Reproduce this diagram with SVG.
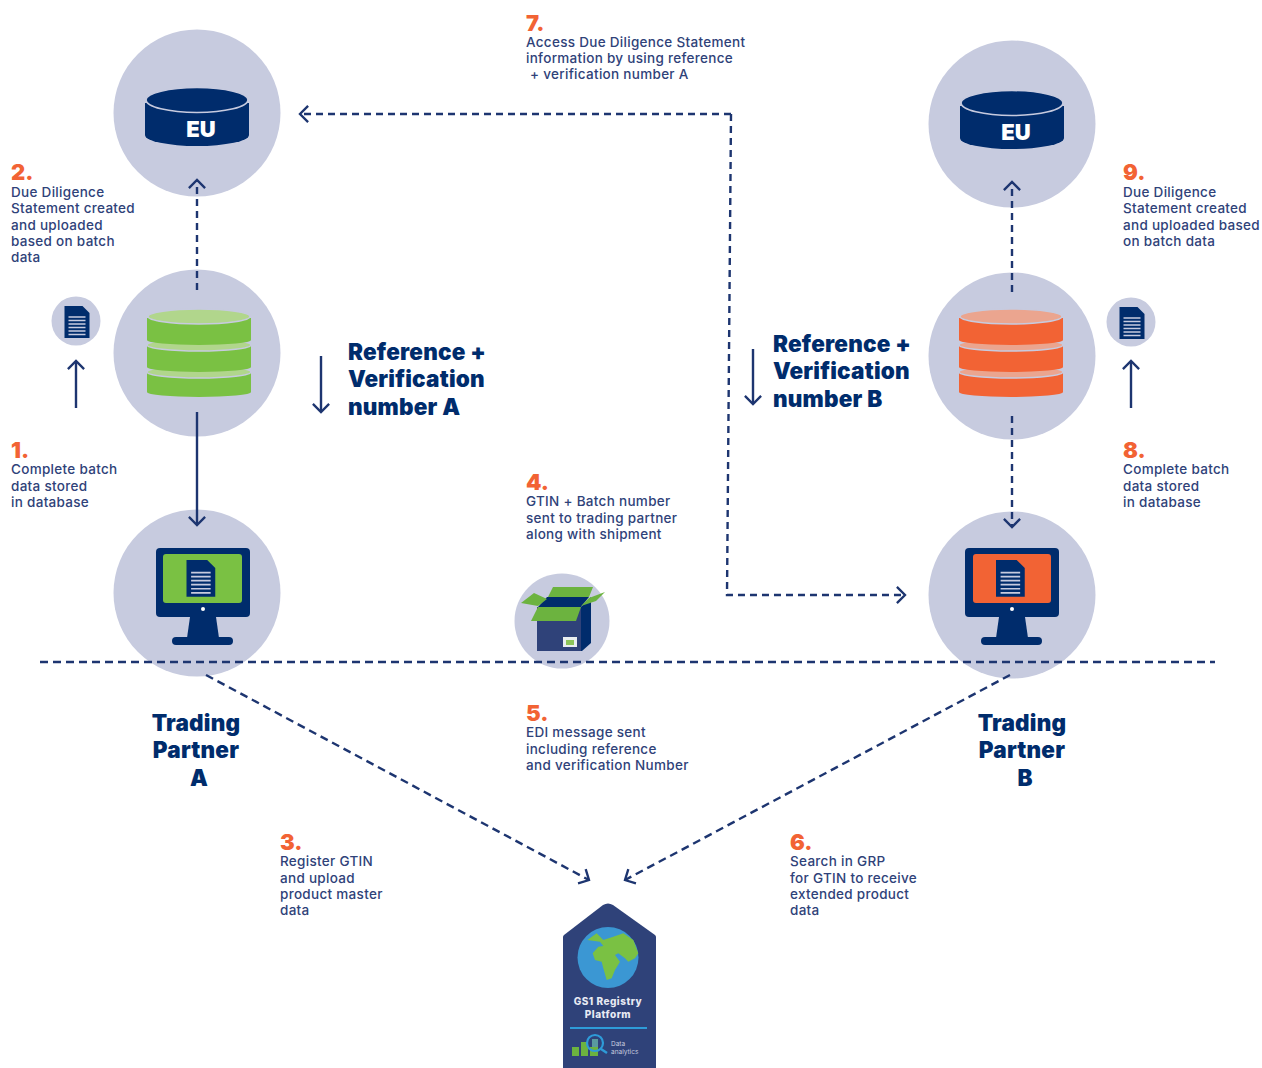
<svg xmlns="http://www.w3.org/2000/svg" width="1262" height="1068" viewBox="0 0 1262 1068">
<style>
text{font-family:"Inter","Liberation Sans",sans-serif}
.c{fill:#c7cbdf}
.n{fill:#002c6c}
.t{font-size:13.5px;font-weight:500;fill:#2f4279;letter-spacing:.3px}
.o{font-size:22px;font-weight:900;fill:#f26334}
.h{font-size:22.500px;font-weight:900;fill:#002c6c;letter-spacing:.2px}
.m{text-anchor:middle}
.ln{fill:none;stroke:#1d3570;stroke-width:2.4}
.d{stroke-dasharray:7 5}
.f{stroke-dasharray:8 5}
.green{--b:#7ac143;--p:#b1d68c}
.orange{--b:#f26334;--p:#eba58f}
.body{fill:var(--b)}
.lens{fill:var(--p);stroke:#c7cbdf;stroke-width:1.500}
</style>
<defs>
<marker id="a" viewBox="0 0 20 20" refX="17" refY="10" markerWidth="18" markerHeight="18" markerUnits="userSpaceOnUse" orient="auto"><path d="M8 1L17 10L8 19" fill="none" stroke="#1d3570" stroke-width="2.600"/></marker>
<g id="doc"><path d="M0 0H18L25 7V32H0Z" class="n"/><path d="M4 11H21M4 14.500H21M4 18H21M4 21.500H21M4 25H21M4 28.500H21" stroke="#c7cbdf" stroke-width="1.500"/></g>
<g id="eu"><path d="M-52 -10V22A52 11 0 0 0 52 22V-10Z" class="n"/><ellipse cx="0" cy="-13" rx="51" ry="12.500" class="n" stroke="#c7cbdf" stroke-width="1.600"/></g>
<g id="mon"><rect x="-47" y="-46" width="94" height="69" rx="4" class="n"/><path d="M-13 23H13L16 44H-16Z" class="n"/><rect x="-31" y="43" width="61" height="8" rx="4" class="n"/><circle cx="0" cy="15" r="2" fill="#fff"/></g>
<g id="stack">
<path class="body" d="M-52 372V392A52 5 0 0 0 52 392V372Z"/><ellipse class="lens" cx="0" cy="372" rx="52" ry="6"/>
<path class="body" d="M-52 345V367A52 5 0 0 0 52 367V345Z"/><ellipse class="lens" cx="0" cy="345" rx="52" ry="6"/>
<path class="body" d="M-52 318V340A52 5 0 0 0 52 340V318Z"/><ellipse class="lens" cx="0" cy="316.500" rx="51" ry="7.500"/>
</g>
</defs>

<g id="partner-a-eu"><circle class="c" cx="197" cy="113" r="83.500"/><use href="#eu" x="197" y="113"/><text x="201" y="137" class="m" font-size="22" font-weight="900" fill="#fff">EU</text></g>
<g id="partner-a-db" class="green"><circle class="c" cx="197" cy="353" r="83.500"/><use href="#stack" x="199" y="0"/></g>
<g id="partner-a-doc"><circle class="c" cx="76" cy="321" r="24.500"/><use href="#doc" x="64.500" y="306"/></g>
<g id="partner-a-pc"><circle class="c" cx="197" cy="593" r="83.500"/><use href="#mon" x="203" y="594"/><rect x="163" y="554" width="79" height="49" rx="3" fill="#7ac143"/><use href="#doc" transform="translate(186.500 560) scale(1.150)"/></g>

<g id="partner-b-eu"><circle class="c" cx="1012" cy="124" r="83.500"/><use href="#eu" x="1012" y="116"/><text x="1016" y="140" class="m" font-size="22" font-weight="900" fill="#fff">EU</text></g>
<g id="partner-b-db" class="orange"><circle class="c" cx="1012" cy="356" r="83.500"/><use href="#stack" x="1011" y="0"/></g>
<g id="partner-b-doc"><circle class="c" cx="1131" cy="322" r="24.500"/><use href="#doc" x="1119.500" y="307"/></g>
<g id="partner-b-pc"><circle class="c" cx="1012" cy="595" r="83.500"/><use href="#mon" x="1012" y="594"/><rect x="973" y="554" width="78" height="49" rx="3" fill="#f26334"/><use href="#doc" transform="translate(996 560) scale(1.150)"/></g>

<g id="shipment"><circle class="c" cx="562" cy="621" r="47.500"/>
<path d="M537 607H582V651H537Z" fill="#2f4279"/><path d="M581 607L591 597V643L582 651H581Z" class="n"/><path d="M538 607L547 597H589L581 607Z" class="n"/>
<path d="M548 597L553 587H593L589 597Z" fill="#6cb33f"/><path d="M521 603L534 593L547 599L538 606Z" fill="#6cb33f"/><path d="M589 598L605 592L596 601L581 606Z" fill="#6cb33f"/><path d="M538 607H581L576 621H531Z" fill="#6cb33f"/>
<rect x="563" y="637" width="14" height="10" fill="#e9eef0"/><rect x="566" y="640" width="8" height="5" fill="#8cc45a"/></g>

<g id="gs1-platform"><path d="M563 937Q563 936 564 935L603 905Q608 902 613 905L655 935Q656 936 656 937V1068H563Z" fill="#2f4279"/>
<circle cx="608" cy="957.500" r="30.500" fill="#3b97d3"/>
<path transform="translate(500 890) scale(.3333)" d="M262 150L290 130L310 150L340 140L370 130L400 150L415 190L405 205L385 215L375 205L355 190L345 195L360 215L345 240L335 265L320 270L310 235L305 215L285 210L278 190L295 170L310 168L300 155Z" fill="#7ac143"/>
<text x="608" y="1005" class="m" font-size="10" font-weight="800" fill="#e8eaf3" letter-spacing=".5">GS1 Registry</text>
<text x="608" y="1018" class="m" font-size="10" font-weight="800" fill="#e8eaf3" letter-spacing=".5">Platform</text>
<rect x="570" y="1027" width="77" height="2" fill="#2e9bd8"/>
<rect x="572" y="1047" width="7" height="9" fill="#6cb33f"/><rect x="581" y="1042" width="7" height="14" fill="#6cb33f"/><rect x="590" y="1047" width="8" height="9" fill="#6cb33f"/>
<rect x="592" y="1039" width="6" height="8" fill="#5a9aa0"/>
<circle cx="595" cy="1043" r="8" fill="none" stroke="#2e9bd8" stroke-width="2.200"/><path d="M601 1049L607 1053" stroke="#2e9bd8" stroke-width="2.500"/>
<text x="611" y="1046" font-size="6.500" fill="#c7cbdf">Data</text><text x="611" y="1054" font-size="6.500" fill="#c7cbdf">analytics</text></g>

<g id="connectors">
<path class="ln d" d="M197 290V180" marker-end="url(#a)"/>
<path class="ln" d="M197 412V525" marker-end="url(#a)"/>
<path class="ln" d="M76 408V361" marker-end="url(#a)"/>
<path class="ln" d="M321 356V412" marker-end="url(#a)"/>
<path class="ln" d="M753 349V404" marker-end="url(#a)"/>
<path class="ln" d="M1131 408V361" marker-end="url(#a)"/>
<path class="ln d" d="M1012 292V182" marker-end="url(#a)"/>
<path class="ln d" d="M1012 416V527" marker-end="url(#a)"/>
<path class="ln d" d="M731 114H300" marker-end="url(#a)"/>
<path class="ln d" d="M731 114L727 595H905" marker-end="url(#a)"/>
<path class="ln f" d="M40 662H1215"/>
<path class="ln f" d="M206 675L589 880" marker-end="url(#a)"/>
<path class="ln f" d="M1010 675L625 880" marker-end="url(#a)"/>
</g>

<g id="labels">
<text x="11" y="180" class="o">2.</text>
<text class="t" x="11" y="197">Due Diligence</text><text class="t" x="11" y="213">Statement created</text><text class="t" x="11" y="230">and uploaded</text><text class="t" x="11" y="246">based on batch</text><text class="t" x="11" y="262">data</text>
<text x="11" y="458" class="o">1.</text>
<text class="t" x="11" y="474">Complete batch</text><text class="t" x="11" y="491">data stored</text><text class="t" x="11" y="507">in database</text>
<text x="526" y="31" class="o">7.</text>
<text class="t" x="526" y="47">Access Due Diligence Statement</text><text class="t" x="526" y="63">information by using reference</text><text class="t" x="530" y="79">+ verification number A</text>
<text x="1123" y="180" class="o">9.</text>
<text class="t" x="1123" y="197">Due Diligence</text><text class="t" x="1123" y="213">Statement created</text><text class="t" x="1123" y="230">and uploaded based</text><text class="t" x="1123" y="246">on batch data</text>
<text x="1123" y="458" class="o">8.</text>
<text class="t" x="1123" y="474">Complete batch</text><text class="t" x="1123" y="491">data stored</text><text class="t" x="1123" y="507">in database</text>
<text x="526" y="490" class="o">4.</text>
<text class="t" x="526" y="506">GTIN + Batch number</text><text class="t" x="526" y="523">sent to trading partner</text><text class="t" x="526" y="539">along with shipment</text>
<text x="526" y="721" class="o">5.</text>
<text class="t" x="526" y="737">EDI message sent</text><text class="t" x="526" y="754">including reference</text><text class="t" x="526" y="770">and verification Number</text>
<text x="280" y="850" class="o">3.</text>
<text class="t" x="280" y="866">Register GTIN</text><text class="t" x="280" y="883">and upload</text><text class="t" x="280" y="899">product master</text><text class="t" x="280" y="915">data</text>
<text x="790" y="850" class="o">6.</text>
<text class="t" x="790" y="866">Search in GRP</text><text class="t" x="790" y="883">for GTIN to receive</text><text class="t" x="790" y="899">extended product</text><text class="t" x="790" y="915">data</text>
<text class="h" x="348" y="360">Reference +</text><text class="h" x="348" y="387">Verification</text><text class="h" x="348" y="415">number A</text>
<text class="h" x="773" y="352">Reference +</text><text class="h" x="773" y="379">Verification</text><text class="h" x="773" y="407">number B</text>
<text class="h m" x="196" y="731">Trading</text><text class="h m" x="196" y="758">Partner</text><text class="h m" x="199" y="786">A</text>
<text class="h m" x="1022" y="731">Trading</text><text class="h m" x="1022" y="758">Partner</text><text class="h m" x="1025" y="786">B</text>
</g>
</svg>
